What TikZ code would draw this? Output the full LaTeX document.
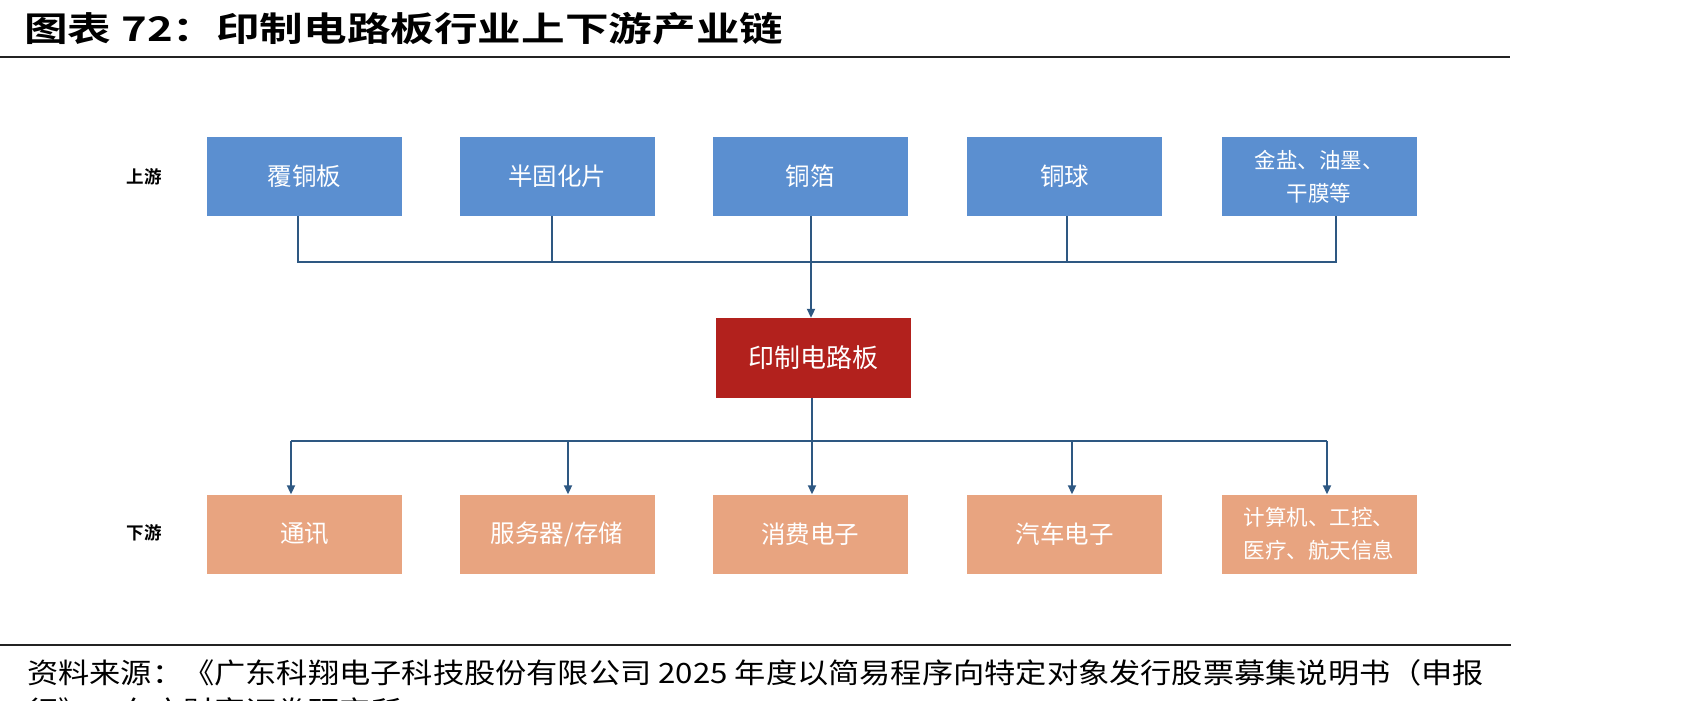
\documentclass[tikz,border=0pt]{standalone}
\usepackage{fontspec}
\usepackage{graphicx}
\newfontfamily\cjk{Noto Sans CJK SC}[BoldFont={* Bold}]
\usetikzlibrary{arrows.meta}
\definecolor{upblue}{RGB}{91,143,208}
\definecolor{pcbred}{RGB}{178,33,29}
\definecolor{downsalmon}{RGB}{232,164,128}
\definecolor{conn}{RGB}{46,88,130}
\definecolor{rulegray}{RGB}{35,35,35}
\begin{document}
\begin{tikzpicture}[x=1pt,y=-1pt,
  box/.style={minimum width=195pt, minimum height=79pt, inner sep=0pt, text=white,
    font=\cjk\fontsize{24.5}{28}\selectfont, align=center},
  upbox/.style={box, fill=upblue},
  downbox/.style={box, fill=downsalmon},
  twoline/.style={font=\cjk\fontsize{21.5}{33}\selectfont},
  side/.style={font=\cjk\bfseries\fontsize{17.5}{20}\selectfont, inner sep=0pt},
  link/.style={draw=conn, line width=2pt},
  arr/.style={link, -{Triangle[length=9pt,width=8pt]}},
  rule/.style={draw=rulegray, line width=2.5pt},
  srctext/.style={anchor=west, inner sep=0pt}
]
\useasboundingbox (0,0) rectangle (1701,701);

% title
\node[anchor=west, inner sep=0pt] (title) at (24,29)
  {\resizebox{759pt}{\height}{\cjk\bfseries\fontsize{34}{40}\selectfont 图表 72：印制电路板行业上下游产业链}};
\draw[rule] (0,57) -- (1510,57);

% side labels
\node[side] (lup) at (144,177) {上游};
\node[side] (ldown) at (144,533) {下游};

% upstream boxes
\node[upbox] (t1) at (304.5,176.5) {覆铜板};
\node[upbox] (t2) at (557,176.5) {半固化片};
\node[upbox] (t3) at (810,176.5) {铜箔};
\node[upbox] (t4) at (1064.5,176.5) {铜球};
\node[upbox, twoline] (t5) at (1319,176.5) {金盐、油墨、\\干膜等};

% PCB box
\node[box, fill=pcbred, minimum height=80pt, font=\cjk\fontsize{26}{30}\selectfont] (pcb) at (813,358) {印制电路板};

% downstream boxes
\node[downbox] (b1) at (304.5,534) {通讯};
\node[downbox] (b2) at (557,534) {服务器/存储};
\node[downbox] (b3) at (810,534) {消费电子};
\node[downbox] (b4) at (1064.5,534) {汽车电子};
\node[downbox, twoline] (b5) at (1319,534) {计算机、工控、\\医疗、航天信息};

% upper connectors
\coordinate (j1) at (298,262);
\coordinate (j2) at (552,262);
\coordinate (j3) at (811,262);
\coordinate (j4) at (1067,262);
\coordinate (j5) at (1336,262);
\draw[link] (t1.south -| j1) -- (j1) -- (j5) -- (t5.south -| j5);
\draw[link] (t2.south -| j2) -- (j2);
\draw[link] (t3.south -| j3) -- (j3);
\draw[link] (t4.south -| j4) -- (j4);
\draw[arr] (j3) -- (pcb.north -| j3);

% lower connectors
\coordinate (k3) at (812,441);
\coordinate (k1) at (291,441);
\coordinate (k2) at (568,441);
\coordinate (k4) at (1072,441);
\coordinate (k5) at (1327,441);
\draw[link] (pcb.south -| k3) -- (k3);
\draw[link] (k1) -- (k5);
\draw[arr] (k1) -- (b1.north -| k1);
\draw[arr] (k2) -- (b2.north -| k2);
\draw[arr] (k3) -- (b3.north -| k3);
\draw[arr] (k4) -- (b4.north -| k4);
\draw[arr] (k5) -- (b5.north -| k5);

% footer
\draw[rule, line width=2pt] (0,645) -- (1511,645);
\node[srctext] (src1) at (27,673)
  {\scalebox{1.115}[1]{\cjk\fontsize{28}{30}\selectfont 资料来源：《广东科翔电子科技股份有限公司 2025 年度以简易程序向特定对象发行股票募集说明书（申报}};
\node[srctext] (src2) at (27,711)
  {\scalebox{1.115}[1]{\cjk\fontsize{28}{30}\selectfont 行》，东方财富证券研究所}};
\end{tikzpicture}
\end{document}
